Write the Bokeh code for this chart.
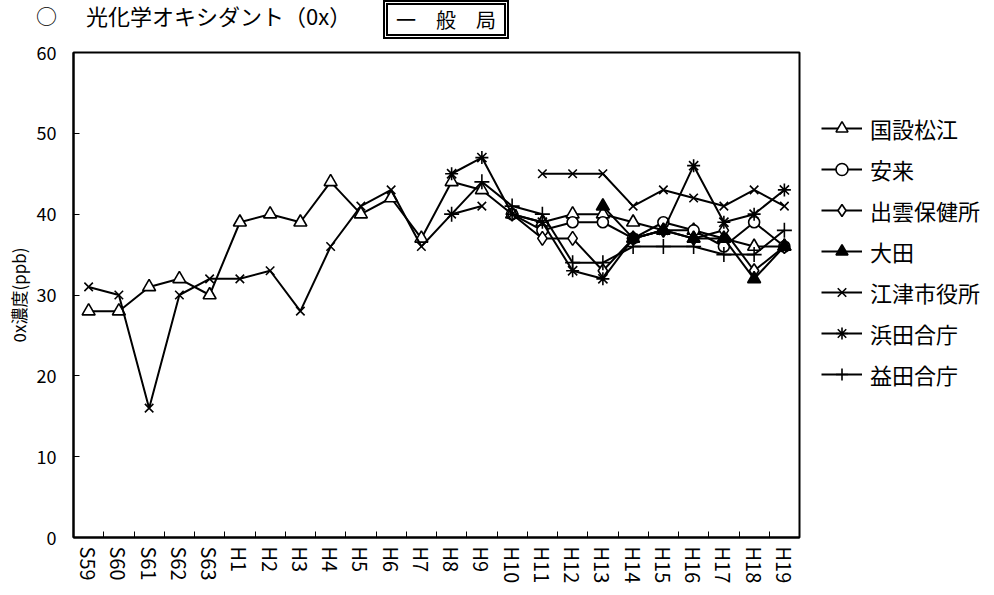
import math
from bokeh.plotting import figure
from bokeh.layouts import column
from bokeh.models import (FactorRange, Range1d, LinearAxis, CategoricalAxis,
                          FixedTicker, Legend, LegendItem, Div)
from bokeh.embed import file_html
from bokeh.resources import INLINE

nan = float("nan")

# ---- data ----
years = ["S59", "S60", "S61", "S62", "S63", "H1", "H2", "H3", "H4", "H5", "H6", "H7",
         "H8", "H9", "H10", "H11", "H12", "H13", "H14", "H15", "H16", "H17", "H18", "H19"]
y_ticks = [0, 10, 20, 30, 40, 50, 60]

station_names = ["国設松江", "安来", "出雲保健所", "大田", "江津市役所", "浜田合庁", "益田合庁"]

kokusetsu_matsue = [28, 28, 31, 32, 30, 39, 40, 39, 44, 40, 42, 37,
                    44, 43, 40, 39, 40, 40, 39, 38, 38, 37, 36, 36]
yasugi = [nan, nan, nan, nan, nan, nan, nan, nan, nan, nan, nan, nan,
          nan, nan, 40, 38, 39, 39, 37, 39, 38, 36, 39, 36]
izumo_hokenjo = [nan, nan, nan, nan, nan, nan, nan, nan, nan, nan, nan, nan,
                 nan, nan, 40, 37, 37, 33, 37, 38, 37, 38, 33, 36]
ohda = [nan, nan, nan, nan, nan, nan, nan, nan, nan, nan, nan, nan,
        nan, nan, nan, nan, nan, 41, 37, 38, 37, 37, 32, 36]
gotsu_shiyakusho = [31, 30, 16, 30, 32, 32, 33, 28, 36, 41, 43, 36,
                    40, 41, nan, 45, 45, 45, 41, 43, 42, 41, 43, 41]
hamada_gocho = [nan, nan, nan, nan, nan, nan, nan, nan, nan, nan, nan, nan,
                45, 47, 40, 39, 33, 32, 37, 38, 46, 39, 40, 43]
masuda_gocho = [nan, nan, nan, nan, nan, nan, nan, nan, nan, nan, nan, nan,
                40, 44, 41, 40, 34, 34, 36, 36, 36, 35, 35, 38]

series = [kokusetsu_matsue, yasugi, izumo_hokenjo, ohda,
          gotsu_shiyakusho, hamada_gocho, masuda_gocho]

title_mark = "○"
title_text = "光化学オキシダント（0x）"
badge_text = "一　般　局"
y_label = "0x濃度(ppb)"

# ---- styles ----
FONT = "Noto Sans CJK JP"
marker_styles = [
    ("triangle", "white", 13),
    ("circle", "white", 11),
    ("diamond", "white", 14),
    ("triangle", "black", 13),
    ("x", "black", 12),
    ("asterisk", "black", 13),
    ("cross", "black", 15),
]

LEFT, FRAME_W, RIGHT = 73, 726, 185
TOTAL_W = LEFT + FRAME_W + RIGHT
HEAD_H = 39

# ---- header (title + double-bordered badge) ----
header_html = (
    f'<div style="position:relative;width:{TOTAL_W}px;height:{HEAD_H}px;'
    f"font-family:'{FONT}';color:black;\">"
    f'<span style="position:absolute;left:36px;top:1px;font-size:21px;line-height:29px;">{title_mark}</span>'
    f'<span style="position:absolute;left:86px;top:1px;font-size:22px;line-height:29px;'
    f'white-space:nowrap;">{title_text}</span>'
    f'<div style="position:absolute;left:383px;top:0px;width:126px;height:{HEAD_H}px;'
    f'box-sizing:border-box;border:5px double black;font-size:20px;line-height:29px;'
    f'text-align:center;white-space:nowrap;">{badge_text}</div>'
    '</div>'
)
hdr = Div(text=header_html, width=TOTAL_W, height=HEAD_H, margin=0)

# ---- main chart ----
p = figure(frame_width=FRAME_W, frame_height=485,
           x_range=FactorRange(factors=years), y_range=Range1d(0, 60),
           x_axis_location=None, output_backend="svg", toolbar_location=None,
           min_border_left=LEFT, min_border_right=RIGHT, min_border_top=13, min_border_bottom=46,
           background_fill_color="white", border_fill_color="white", margin=0)
p.xgrid.visible = False
p.ygrid.visible = False
p.outline_line_color = "black"
p.outline_line_width = 2

yax = p.yaxis[0]
yax.ticker = FixedTicker(ticks=y_ticks)
yax.major_tick_in = 6
yax.major_tick_out = 0
yax.minor_tick_line_color = None
yax.axis_line_color = "black"
yax.axis_line_width = 2
yax.major_tick_line_width = 1
yax.major_label_text_font = FONT
yax.major_label_text_font_size = "18px"
yax.major_label_text_color = "black"
yax.major_label_standoff = 17
yax.axis_label = y_label
yax.axis_label_text_font = FONT
yax.axis_label_text_font_size = "17px"
yax.axis_label_text_font_style = "normal"
yax.axis_label_text_color = "black"
yax.axis_label_standoff = 3

# tick marks between categories (synthetic coordinates of the factor range)
bin_edges = list(range(len(years) + 1))
tick_axis = LinearAxis(ticker=FixedTicker(ticks=bin_edges),
                       major_tick_in=6, major_tick_out=0, minor_tick_line_color=None,
                       major_label_text_font_size="0px", major_label_standoff=0,
                       major_label_overrides={e: "" for e in bin_edges},
                       axis_line_color="black", axis_line_width=2)
p.add_layout(tick_axis, "below")
cat_axis = CategoricalAxis(axis_line_color=None, major_tick_line_color=None,
                           minor_tick_line_color=None,
                           major_label_orientation=-math.pi / 2,
                           major_label_text_font=FONT,
                           major_label_text_font_size="20px",
                           major_label_text_color="black",
                           major_label_standoff=3)
p.add_layout(cat_axis, "below")

items = []
for name, vals, (marker, fill, size) in zip(station_names, series, marker_styles):
    ln = p.line(years, vals, line_color="black", line_width=2)
    sc = p.scatter(years, vals, marker=marker, size=size, line_color="black",
                   fill_color=fill, line_width=1.6)
    items.append(LegendItem(label=name, renderers=[ln, sc]))

legend = Legend(items=items, location=(22, 147), orientation="vertical",
                glyph_width=41, glyph_height=30, label_height=30,
                label_standoff=8, label_text_font=FONT, label_text_font_size="22px",
                label_text_color="black", spacing=9, padding=0, margin=0,
                border_line_color=None, background_fill_alpha=0)
p.add_layout(legend, "right")

layout = column(hdr, p, spacing=0)
open("out.html", "w").write(file_html(layout, INLINE))
